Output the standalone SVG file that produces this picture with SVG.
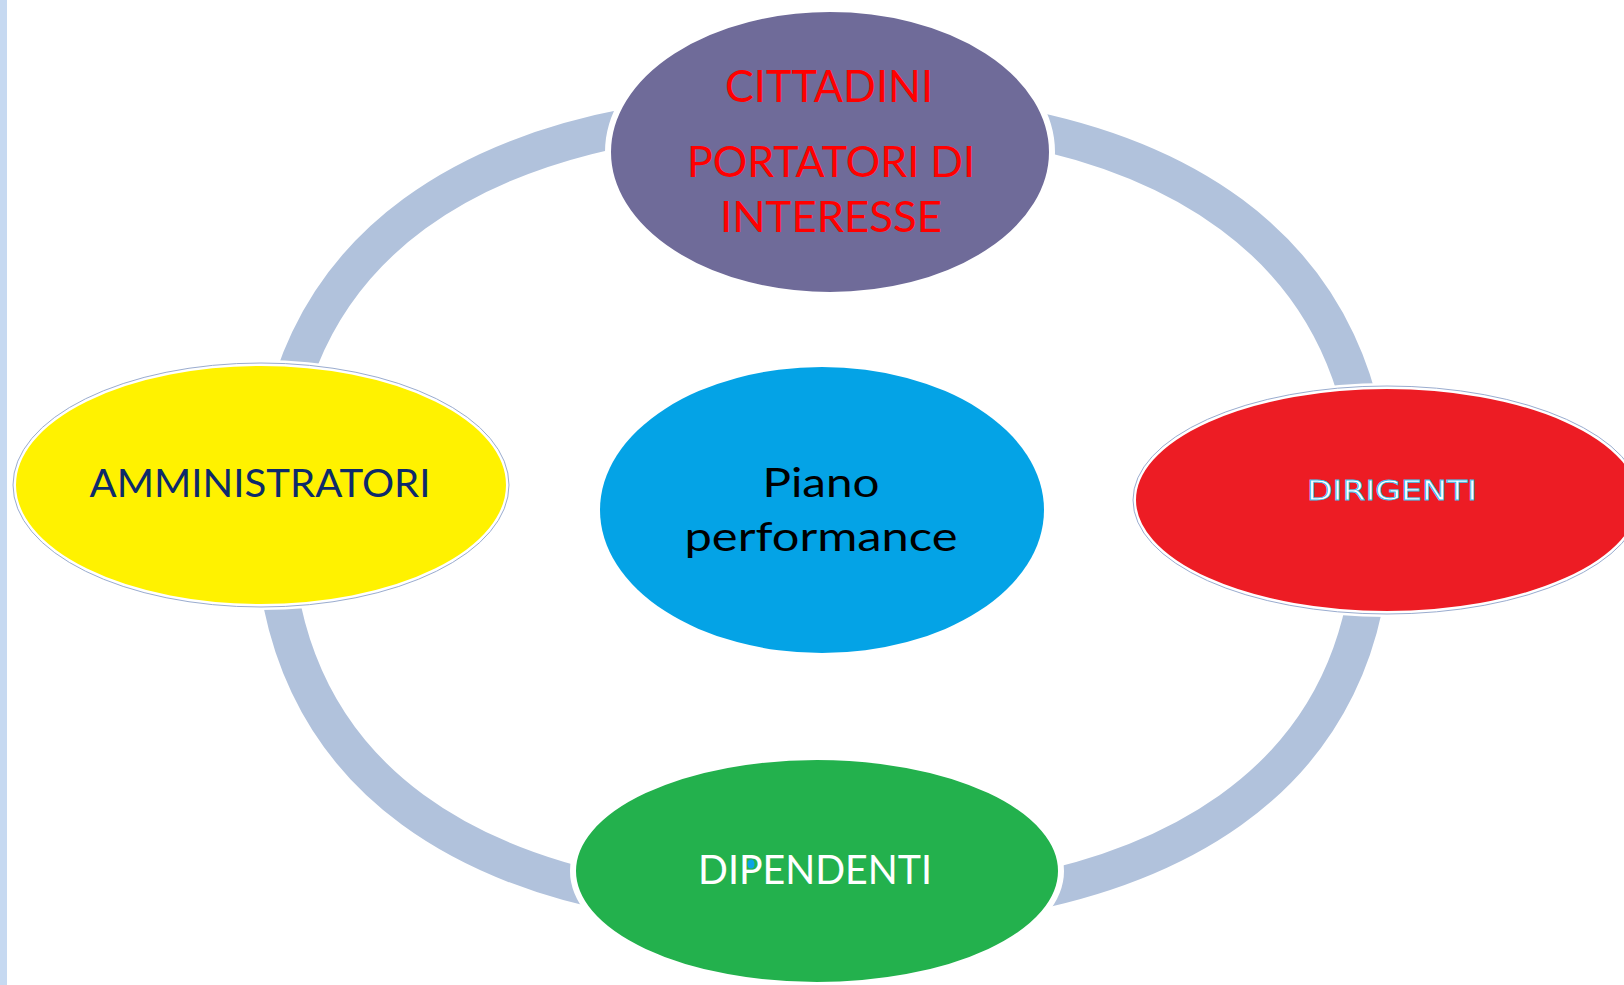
<svg xmlns="http://www.w3.org/2000/svg" width="1624" height="985" viewBox="0 0 1624 985">
<style>
.lbl{font-family:Lato,"Open Sans","Liberation Sans",sans-serif;text-anchor:middle}
.halo{stroke:#ffffff;stroke-width:6}
.thin{stroke:#9AACCF;stroke-width:1}
</style>
<rect x="0" y="0" width="1624" height="985" fill="#ffffff"/>
<rect x="0" y="0" width="7" height="985" fill="#C6D9F1"/>
<g id="connectors">
<path d="M823,110 C467,110 273,252 273,513 C273,772 464,912 817,912 C1177,912 1373,773 1373,517 C1373,253 1179,110 823,110 Z" fill="none" stroke="#B1C2DC" stroke-width="37"/>
</g>
<g id="node-cittadini">
<ellipse cx="830" cy="152" rx="222" ry="143" fill="#6F6B99" class="halo"/>
<text class="lbl" x="829" y="102" font-size="44" fill="#FF0000" textLength="208" lengthAdjust="spacingAndGlyphs">CITTADINI</text>
<text class="lbl" x="831" y="177" font-size="43" fill="#FF0000" textLength="288" lengthAdjust="spacingAndGlyphs">PORTATORI DI</text>
<text class="lbl" x="831" y="232" font-size="43" fill="#FF0000" textLength="222" lengthAdjust="spacingAndGlyphs">INTERESSE</text>
</g>
<g id="node-amministratori">
<ellipse cx="261" cy="485" rx="248" ry="122" fill="#FFF200" class="halo"/>
<ellipse cx="261" cy="485" rx="248" ry="122" fill="none" class="thin"/>
<text class="lbl" x="260" y="497" font-size="38" fill="#0D2A6B" textLength="341" lengthAdjust="spacingAndGlyphs">AMMINISTRATORI</text>
</g>
<g id="node-dirigenti">
<ellipse cx="1387" cy="500" rx="254" ry="114" fill="#ED1C24" class="halo"/>
<ellipse cx="1387" cy="500" rx="254" ry="114" fill="none" class="thin"/>
<text x="1392" y="500" font-family="'DejaVu Sans','Liberation Sans',sans-serif" text-anchor="middle" font-size="26" fill="#ffffff" stroke="#38C3F0" stroke-width="0.8" textLength="170" lengthAdjust="spacingAndGlyphs">DIRIGENTI</text>
</g>
<g id="node-dipendenti">
<ellipse cx="817" cy="871" rx="244" ry="114" fill="#23B14D" class="halo"/>
<text class="lbl" x="815" y="884" font-size="40" fill="#ffffff" textLength="234" lengthAdjust="spacingAndGlyphs">DIPENDENTI</text>
<ellipse cx="751" cy="864" rx="3.5" ry="4.5" fill="#0BA3E6"/>
</g>
<g id="node-piano">
<ellipse cx="822" cy="510" rx="222" ry="143" fill="#04A3E6"/>
<text class="lbl" x="821" y="497" font-size="40" fill="#000000" textLength="117" lengthAdjust="spacingAndGlyphs">Piano</text>
<text class="lbl" x="821" y="551" font-size="40" fill="#000000" textLength="273" lengthAdjust="spacingAndGlyphs">performance</text>
</g>
</svg>
